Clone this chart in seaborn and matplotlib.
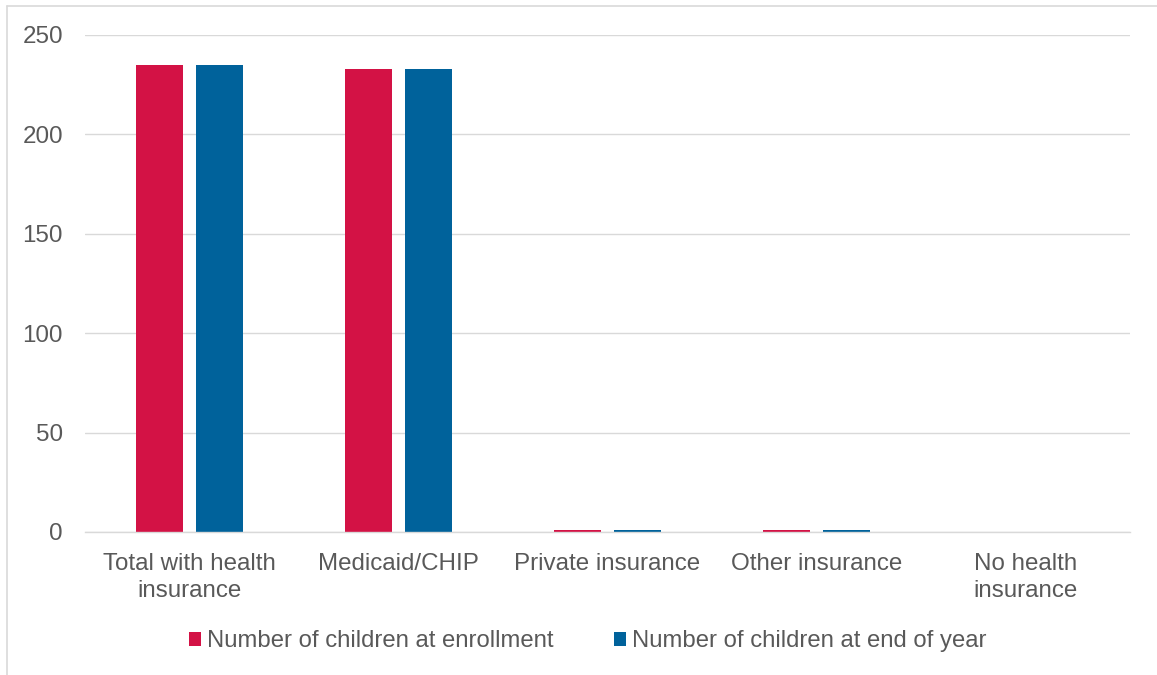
import matplotlib
matplotlib.use("Agg")
import matplotlib.pyplot as plt
import seaborn as sns
import pandas as pd
from matplotlib.lines import Line2D

categories = ["Total with health\ninsurance", "Medicaid/CHIP", "Private insurance",
              "Other insurance", "No health\ninsurance"]
series_names = ["Number of children at enrollment", "Number of children at end of year"]
enrollment = [235, 233, 1, 1, 0]
end_of_year = [235, 233, 1, 1, 0]
colors = ["#D31245", "#00629B"]
yticks = [0, 50, 100, 150, 200, 250]

df = pd.DataFrame({
    "category": categories * 2,
    "value": enrollment + end_of_year,
    "series": [series_names[0]] * len(categories) + [series_names[1]] * len(categories),
})

sns.set_theme(style="white")
plt.rcParams["font.family"] = ["Liberation Sans", "DejaVu Sans"]

fig = plt.figure(figsize=(11.57, 6.75), dpi=100)
ax = fig.add_axes([0.0735, 0.2119, 0.9032, 0.7363])

sns.barplot(data=df, x="category", y="value", hue="series", palette=colors,
            width=0.574, gap=0.217, ax=ax, order=categories, hue_order=series_names,
            legend=True, saturation=1, linewidth=0)

ax.set_ylim(0, 250)
ax.set_xlim(-0.5, len(categories) - 0.5)
ax.set_yticks(yticks)
ax.yaxis.grid(True, color="#D9D9D9", linewidth=1)
ax.set_axisbelow(True)
for s in ["left", "right", "top"]:
    ax.spines[s].set_visible(False)
ax.spines["bottom"].set_color("#D9D9D9")
ax.spines["bottom"].set_linewidth(1)
ax.tick_params(axis="both", length=0, labelsize=17.4, colors="#595959")
ax.tick_params(axis="x", pad=15)
ax.tick_params(axis="y", pad=16)
ax.set_xlabel("")
ax.set_ylabel("")
for lbl in ax.get_xticklabels():
    lbl.set_linespacing(1.3)

leg = ax.legend(loc="center", bbox_to_anchor=(0.508, 0.050), bbox_transform=fig.transFigure,
                ncol=2, frameon=False, fontsize=17.2, handlelength=0.5, handleheight=0.5,
                handletextpad=0.25, columnspacing=2.5)
for t in leg.get_texts():
    t.set_color("#595959")

fig.add_artist(Line2D([6.5 / 1157, 1], [1 - 5.5 / 675, 1 - 5.5 / 675], transform=fig.transFigure,
                      color="#D9D9D9", linewidth=1.2))
fig.add_artist(Line2D([6.5 / 1157, 6.5 / 1157], [0, 1 - 5.5 / 675], transform=fig.transFigure,
                      color="#D9D9D9", linewidth=1.2))

fig.savefig("out.png", dpi=100)
